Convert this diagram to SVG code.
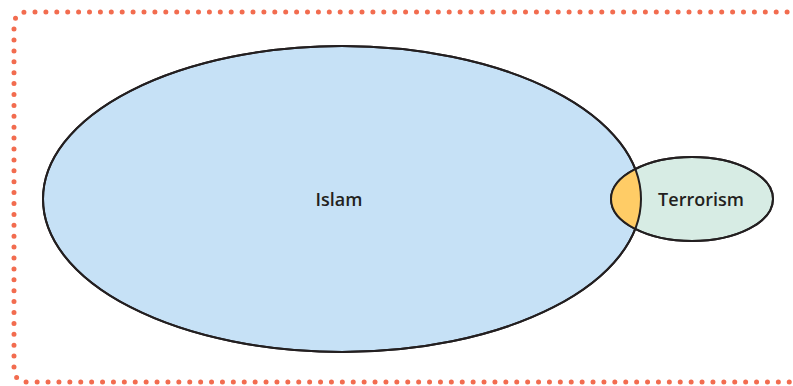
<svg xmlns="http://www.w3.org/2000/svg" width="793" height="386" viewBox="0 0 793 386">
<defs>
<style>
.frame{fill:none;stroke:#F26C4F;stroke-width:5;stroke-linecap:round;stroke-dasharray:0 10.9}
.ell{stroke:#231F20;stroke-width:2}
.line{fill:none;stroke:#231F20;stroke-width:2}
.lbl{font-family:"Open Sans","Liberation Sans",sans-serif;font-size:18px;font-weight:600;fill:#231F20;text-anchor:middle}
</style>
<clipPath id="clipIslam"><ellipse cx="342" cy="199" rx="299" ry="153"/></clipPath>
</defs>
<path class="frame" d="M 798 12 H 28 Q 14 12 14 26 V 368 Q 14 382 28 382 H 798"/>
<g id="islam">
<ellipse class="ell" cx="342" cy="199" rx="299" ry="153" fill="#C6E1F6"/>
<text class="lbl" x="339" y="206">Islam</text>
</g>
<g id="terrorism">
<ellipse class="ell" cx="692" cy="199" rx="81" ry="42" fill="#D7ECE4"/>
<ellipse cx="692" cy="199" rx="81" ry="42" fill="#FFCC66" clip-path="url(#clipIslam)"/>
<ellipse class="line" cx="692" cy="199" rx="81" ry="42"/>
<ellipse class="line" cx="342" cy="199" rx="299" ry="153"/>
<text class="lbl" x="701" y="206">Terrorism</text>
</g>
<g id="connectors"/>
</svg>
